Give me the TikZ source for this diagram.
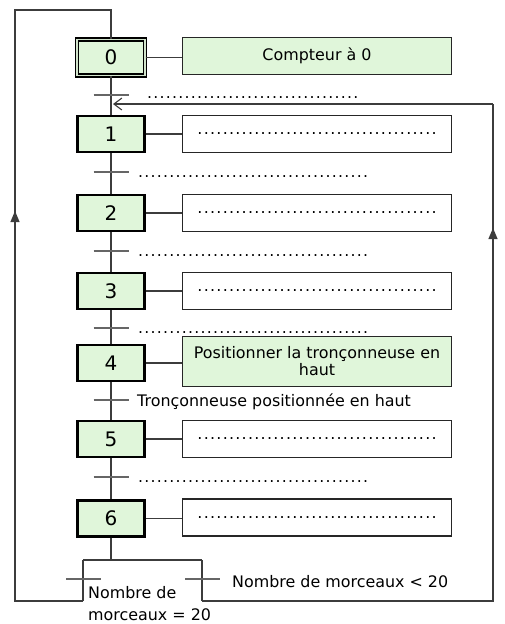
\documentclass[tikz,border=0pt]{standalone}
\usepackage{fontspec}
\setmainfont{DejaVu Sans}
\newfontfamily\dotfont[LetterSpace=8]{DejaVu Sans}
\usetikzlibrary{arrows.meta}
\definecolor{stepfill}{RGB}{224,246,218}
\definecolor{wire}{RGB}{60,60,60}
\begin{document}
\begin{tikzpicture}[x=1pt,y=-1pt,
  txt/.style={font=\fontsize{15.9}{17}\selectfont, inner sep=0pt},
  stepbox/.style={draw=black, line width=2.2pt, fill=stepfill, minimum width=67pt, minimum height=36pt, inner sep=0pt, font=\fontsize{20}{22}\selectfont},
  initbox/.style={stepbox, line width=1.3pt, double=stepfill!85!gray, double distance=1.8pt, minimum width=68pt, minimum height=36pt},
  actbox/.style={draw=black!85, line width=1.3pt, minimum width=269pt, minimum height=37pt, inner sep=0pt, font=\fontsize{15.9}{17}\selectfont, align=center},
  wireline/.style={draw=wire, line width=1.1pt},
  tickline/.style={draw=black!60, line width=1.6pt},
  dotlbl/.style={font=\dotfont\fontsize{15.7}{17}\selectfont, inner sep=0pt},
  uparrow/.style={-{Triangle[length=11pt,width=9pt]}}
]
\useasboundingbox (0,0) rectangle (505,624);

% steps
\node[initbox] (s0) at (111,57.5) {0};
\node[stepbox] (s1) at (111,134) {1};
\node[stepbox] (s2) at (111,213) {2};
\node[stepbox] (s3) at (111,291) {3};
\node[stepbox] (s4) at (111,363) {4};
\node[stepbox] (s5) at (111,439) {5};
\node[stepbox] (s6) at (111,518.5) {6};

% actions
\node[actbox, fill=stepfill] (a0) at (317,56) {Compteur à 0};
\node[actbox] (a1) at (317,134) {\dotfont ......................................};
\node[actbox] (a2) at (317,213) {\dotfont ......................................};
\node[actbox] (a3) at (317,291) {\dotfont ......................................};
\node[actbox, fill=stepfill, minimum height=50pt] (a4) at (317,361.5) {Positionner la tronçonneuse en\\haut};
\node[actbox] (a5) at (317,439) {\dotfont ......................................};
\node[actbox] (a6) at (317,517.5) {\dotfont ......................................};

\foreach \i in {0,...,6}{
  \draw[wireline] (s\i.east) -- (s\i.east -| a\i.west);
}

% transitions coordinates
\coordinate (t01) at (111,95);
\coordinate (t12) at (111,172);
\coordinate (t23) at (111,251);
\coordinate (t34) at (111,328);
\coordinate (t45) at (111,400);
\coordinate (t56) at (111,477);

% main vertical links
\draw[wireline] (s0.south) -- (s1.north);
\draw[wireline] (s1.south) -- (s2.north);
\draw[wireline] (s2.south) -- (s3.north);
\draw[wireline] (s3.south) -- (s4.north);
\draw[wireline] (s4.south) -- (s5.north);
\draw[wireline] (s5.south) -- (s6.north);

\foreach \t in {t01,t12,t23,t34,t45,t56}{
  \draw[tickline] ([xshift=-17.5pt]\t) -- ([xshift=17.5pt]\t);
}

% transition labels
\node[dotlbl, anchor=base west] (l01) at (147,98.5) {..................................};
\node[dotlbl, anchor=base west] (l12) at (138,177.5) {.....................................};
\node[dotlbl, anchor=base west] (l23) at (138,256.5) {.....................................};
\node[dotlbl, anchor=base west] (l34) at (138,333.5) {.....................................};
\node[txt, anchor=base west] (l45) at (137,406) {Tronçonneuse positionnée en haut};
\node[dotlbl, anchor=base west] (l56) at (138,482.5) {.....................................};

% divergence
\coordinate (dv) at (111,560);
\coordinate (dvL) at (83,560);
\coordinate (dvR) at (202,560);
\coordinate (bL) at (83,601);
\coordinate (bR) at (202,601);
\coordinate (tL) at (83.5,579);
\coordinate (tR) at (202.5,579);
\draw[wireline] (s6.south) -- (dv);
\draw[wireline] (dvL) -- (dvR);
\draw[wireline] (dvL) -- (bL);
\draw[wireline] (dvR) -- (bR);
\draw[tickline] ([xshift=-17.5pt]tL) -- ([xshift=17.5pt]tL);
\draw[tickline] ([xshift=-17.5pt]tR) -- ([xshift=17.5pt]tR);

\node[txt, anchor=base west] (lR) at (232,587) {Nombre de morceaux < 20};
\node[txt, anchor=north west, align=left, font=\fontsize{15.9}{22}\selectfont] (lL) at (88,586) {Nombre de\\morceaux = 20};

% loop back to step 0
\coordinate (lc1) at (15,601);
\coordinate (lc2) at (15,211);
\coordinate (lc3) at (15,10);
\coordinate (lc4) at (111,10);
\draw[wireline] (bL) -- (lc1) -- (lc3) -- (lc4) -- (s0.north);
\draw[wireline, uparrow] ([yshift=-20pt]lc2) -- (lc2);

% loop back to step 1
\coordinate (rc1) at (493,601);
\coordinate (rc2) at (493,228);
\coordinate (rc3) at (493,104);
\coordinate (rc4) at (113,104);
\draw[wireline] (bR) -- (rc1) -- (rc3);
\draw[wireline, uparrow] ([yshift=-20pt]rc2) -- (rc2);
\draw[wireline, -{Straight Barb[length=8pt,width=12pt]}] (rc3) -- (rc4);
\end{tikzpicture}
\end{document}
